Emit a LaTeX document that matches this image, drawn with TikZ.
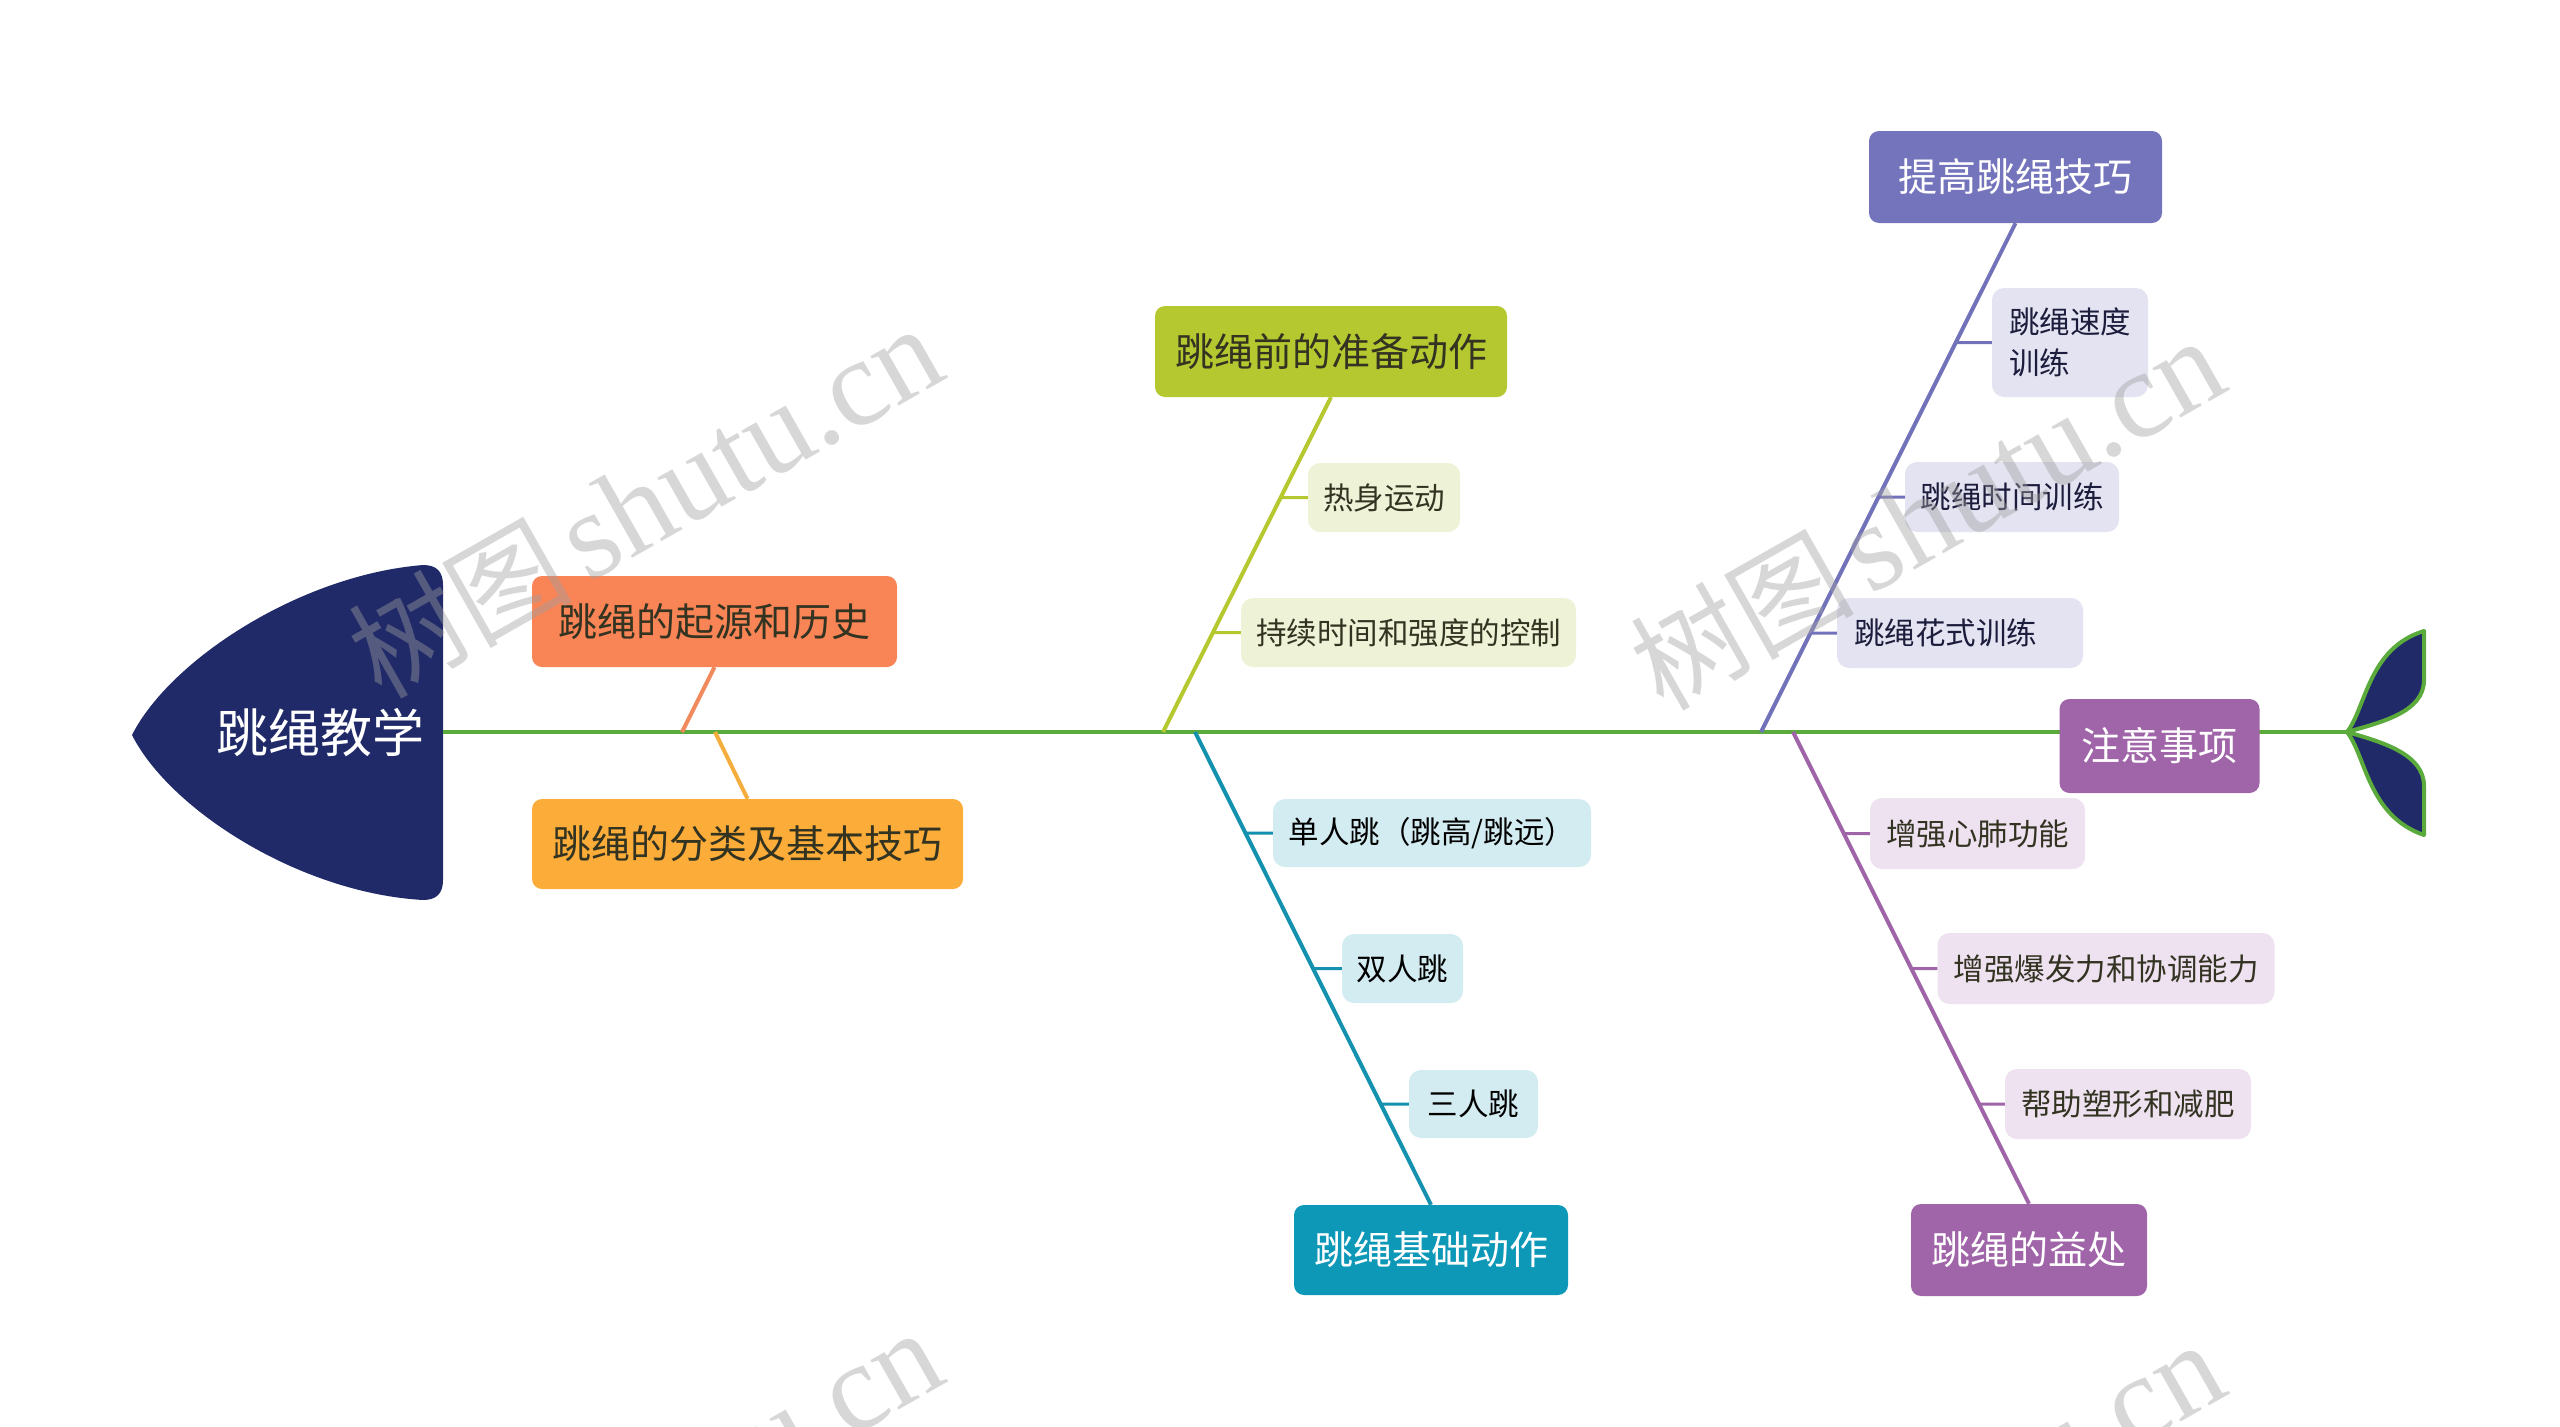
\documentclass[tikz,border=0pt]{standalone}
\usepackage{fontspec}
\setmainfont{Noto Sans CJK SC}
\newfontfamily\wmserif{Liberation Serif}
\definecolor{navy}{HTML}{202A68}
\definecolor{spinec}{HTML}{5AAA3C}
\definecolor{origc}{HTML}{F98456}
\definecolor{origl}{HTML}{F08A5D}
\definecolor{clsc}{HTML}{FCAC38}
\definecolor{clsl}{HTML}{F5AE3E}
\definecolor{prepc}{HTML}{B5C830}
\definecolor{prepsub}{HTML}{EEF2D6}
\definecolor{basicc}{HTML}{0E98B8}
\definecolor{basicl}{HTML}{1491AE}
\definecolor{basicsub}{HTML}{D3ECF2}
\definecolor{skillc}{HTML}{7474BC}
\definecolor{skilll}{HTML}{7272BA}
\definecolor{skillsub}{HTML}{E3E3F1}
\definecolor{purc}{HTML}{A064A8}
\definecolor{pursub}{HTML}{EEE1F0}
\definecolor{darktxt}{HTML}{333322}
\definecolor{navytxt}{HTML}{1C1C3C}
\definecolor{wmc}{HTML}{A0A0A0}
\tikzset{
  mainbox/.style={rounded corners=10pt, inner sep=0pt, font=\fontsize{39}{47}\selectfont},
  subbox/.style={rounded corners=12pt, inner sep=0pt, font=\fontsize{30.5}{41}\selectfont},
  spineln/.style={draw=spinec, line width=4pt},
  brln/.style={line width=4pt},
  subln/.style={line width=3pt},
  wm/.style={text=wmc, opacity=0.42, inner sep=0pt}
}
\begin{document}
\begin{tikzpicture}[x=1pt,y=-1pt]
\useasboundingbox (0,0) rectangle (2560,1427);

% spine coordinates
\coordinate (headR) at (443,732);
\coordinate (tailJ) at (2347,732);
\coordinate (sp1) at (682,732);
\coordinate (sp2) at (715,732);
\coordinate (sp3) at (1163,732);
\coordinate (sp4) at (1195,732);
\coordinate (sp5) at (1761,732);
\coordinate (sp6) at (1793,732);

% head
\fill[navy] (423,565) .. controls (300,575) and (170,660) .. (132,735)
  .. controls (170,810) and (300,893) .. (423,900)
  .. controls (437,900) and (443,893) .. (443,880) -- (443,585)
  .. controls (443,572) and (437,565) .. (423,565) -- cycle;
\node[font=\fontsize{52}{60}\selectfont, text=white, inner sep=0pt] (head) at (320,733) {跳绳教学};

% spine
\draw[spineln] (headR) -- (tailJ);

% tail fins
\filldraw[fill=navy, draw=spinec, line width=4pt, line join=round]
  (tailJ) .. controls (2366,708) and (2368,648) .. (2424,631)
  -- (2424,680) .. controls (2424,712) and (2382,722) .. (tailJ) -- cycle;
\filldraw[fill=navy, draw=spinec, line width=4pt, line join=round]
  (tailJ) .. controls (2366,756) and (2368,816) .. (2424,835)
  -- (2424,786) .. controls (2424,754) and (2382,742) .. (tailJ) -- cycle;

% main boxes
\node[mainbox, fill=origc, text=darktxt, minimum width=365pt, minimum height=91pt] (orig) at (714.5,621.5) {跳绳的起源和历史};
\node[mainbox, fill=clsc, text=darktxt, minimum width=431pt, minimum height=90pt] (cls) at (747.5,844) {跳绳的分类及基本技巧};
\node[mainbox, fill=prepc, text=darktxt, minimum width=352pt, minimum height=91pt] (prep) at (1331,351.5) {跳绳前的准备动作};
\node[mainbox, fill=basicc, text=white, minimum width=274pt, minimum height=90pt] (basic) at (1431,1250) {跳绳基础动作};
\node[mainbox, fill=skillc, text=white, minimum width=293pt, minimum height=92pt] (skill) at (2015.5,177) {提高跳绳技巧};
\node[mainbox, fill=purc, text=white, minimum width=236pt, minimum height=92pt] (benefit) at (2029,1250) {跳绳的益处};

% branches
\draw[brln, draw=origl] (orig.south) -- (sp1);
\draw[brln, draw=clsl] (sp2) -- (cls.north);
\draw[brln, draw=prepc] (prep.south) -- (sp3);
\draw[brln, draw=basicl] (sp4) -- (basic.north);
\draw[brln, draw=skilll] (skill.south) -- (sp5);
\draw[brln, draw=purc] (sp6) -- (benefit.north);

\coordinate (prepT) at (prep.south);
\coordinate (basicB) at (basic.north);
\coordinate (skillT) at (skill.south);
\coordinate (benB) at (benefit.north);

% note box on spine
\node[mainbox, fill=purc, text=white, minimum width=200pt, minimum height=94pt] (note) at (2159.5,746) {注意事项};

% sub boxes
\node[subbox, fill=prepsub, text=darktxt, minimum width=152pt, minimum height=69pt] (warm) at (1384,497.5) {热身运动};
\node[subbox, fill=prepsub, text=darktxt, minimum width=335pt, minimum height=69pt] (dur) at (1408.5,632.5) {持续时间和强度的控制};
\node[subbox, fill=basicsub, text=black, minimum width=318pt, minimum height=68pt] (single) at (1432,833) {单人跳（跳高/跳远）};
\node[subbox, fill=basicsub, text=black, minimum width=121pt, minimum height=69pt] (dbl) at (1402.5,968.5) {双人跳};
\node[subbox, fill=basicsub, text=black, minimum width=129pt, minimum height=68pt] (tri) at (1473.5,1104) {三人跳};
\node[subbox, fill=skillsub, text=navytxt, minimum width=156pt, minimum height=109pt, align=left] (speed) at (2070,342.5) {跳绳速度\\训练\hspace*{2em}};
\node[subbox, fill=skillsub, text=navytxt, minimum width=214pt, minimum height=70pt] (time) at (2012,497) {跳绳时间训练};
\node[subbox, fill=skillsub, text=navytxt, inner xsep=17pt, text width=212pt, align=left, minimum height=70pt] (fancy) at (1960,633) {跳绳花式训练};
\node[subbox, fill=pursub, text=darktxt, minimum width=215pt, minimum height=71pt] (heart) at (1977.5,833.5) {增强心肺功能};
\node[subbox, fill=pursub, text=darktxt, minimum width=337pt, minimum height=71pt] (power) at (2106,968.5) {增强爆发力和协调能力};
\node[subbox, fill=pursub, text=darktxt, minimum width=246pt, minimum height=70pt] (shape) at (2128,1104) {帮助塑形和减肥};

% sub connectors
\draw[subln, draw=prepc] (warm.west) -- (intersection of prepT--sp3 and warm.west--warm.east);
\draw[subln, draw=prepc] (dur.west) -- (intersection of prepT--sp3 and dur.west--dur.east);
\draw[subln, draw=basicl] (single.west) -- (intersection of sp4--basicB and single.west--single.east);
\draw[subln, draw=basicl] (dbl.west) -- (intersection of sp4--basicB and dbl.west--dbl.east);
\draw[subln, draw=basicl] (tri.west) -- (intersection of sp4--basicB and tri.west--tri.east);
\draw[subln, draw=skilll] (speed.west) -- (intersection of skillT--sp5 and speed.west--speed.east);
\draw[subln, draw=skilll] (time.west) -- (intersection of skillT--sp5 and time.west--time.east);
\draw[subln, draw=skilll] (fancy.west) -- (intersection of skillT--sp5 and fancy.west--fancy.east);
\draw[subln, draw=purc] (heart.west) -- (intersection of sp6--benB and heart.west--heart.east);
\draw[subln, draw=purc] (power.west) -- (intersection of sp6--benB and power.west--power.east);
\draw[subln, draw=purc] (shape.west) -- (intersection of sp6--benB and shape.west--shape.east);

% watermarks
\begin{scope}
\clip (0,0) rectangle (2560,1427);
\foreach \wx/\wy in {645/502, 1927/514, 645/1506, 1927/1518}
  \node[wm, rotate=29.6] at (\wx,\wy) {{\fontsize{112}{112}\selectfont 树图}\hspace{14pt}{\wmserif\fontsize{124}{124}\selectfont shutu.cn}};
\end{scope}
\end{tikzpicture}
\end{document}
